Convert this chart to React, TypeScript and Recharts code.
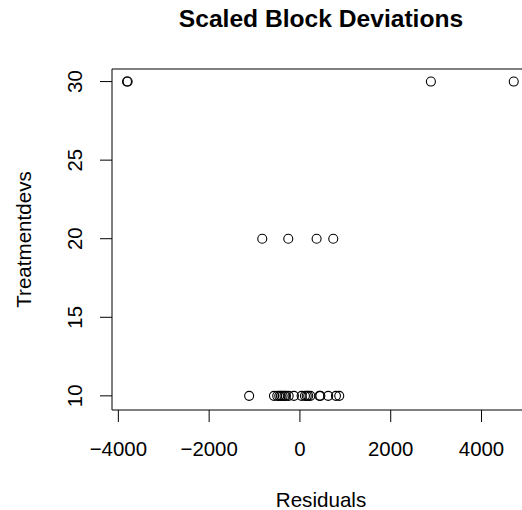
import React from 'react';
import { ScatterChart, Scatter, XAxis, YAxis, ReferenceArea } from 'recharts';

// residuals vs. treatment deviations
const residuals = [
  -3810, -3795, 2885, 4710,
  -830, -257, 367, 734,
  -1119, -572, -500, -455, -420, -381, -340, -308, -249, -132, 37, 110, 150, 183, 230, 430, 450, 623, 793, 866,
];
const treatmentdevs = [
  30, 30, 30, 30,
  20, 20, 20, 20,
  10, 10, 10, 10, 10, 10, 10, 10, 10, 10, 10, 10, 10, 10, 10, 10, 10, 10, 10, 10,
];
const xTicks = [-4000, -2000, 0, 2000, 4000];
const yTicks = [10, 15, 20, 25, 30];
const xDomain: [number, number] = [-4140, 5090];
const yDomain: [number, number] = [9.1, 30.8];

const points = residuals.map((r, i) => ({ x: r, y: treatmentdevs[i] }));

const FONT = '"Liberation Sans", Arial, Helvetica, sans-serif';

const fmt = (v: number) => (v < 0 ? '\u2212' + Math.abs(v) : String(v));

const XTick = (props: any) => (
  <text x={props.x} y={455.5} textAnchor="middle" fontSize={20.4} fontFamily={FONT} fill="#000">
    {fmt(props.payload.value)}
  </text>
);

const YTick = (props: any) => (
  <text
    transform={`translate(81.5, ${props.y}) rotate(-90)`}
    textAnchor="middle"
    fontSize={20.4}
    fontFamily={FONT}
    fill="#000"
  >
    {props.payload.value}
  </text>
);

const OpenCircle = (props: any) => (
  <circle cx={props.cx} cy={props.cy} r={4.5} fill="none" stroke="#000" strokeWidth={1.1} />
);

export default function App() {
  return (
    <div
      style={{
        position: 'fixed',
        left: 0,
        top: 0,
        width: 522,
        height: 510,
        overflow: 'hidden',
        background: '#fff',
      }}
    >
      <ScatterChart width={560} height={510} margin={{ top: 69, right: 29, bottom: 40, left: 0 }}>
        <XAxis
          type="number"
          dataKey="x"
          domain={xDomain}
          ticks={xTicks}
          interval={0}
          height={60}
          axisLine={false}
          tickSize={12}
          tickLine={{ stroke: '#000' }}
          tick={<XTick />}
        />
        <YAxis
          type="number"
          dataKey="y"
          domain={yDomain}
          ticks={yTicks}
          interval={0}
          width={112}
          axisLine={false}
          tickSize={12}
          tickLine={{ stroke: '#000' }}
          tick={<YTick />}
        />
        <ReferenceArea
          x1={xDomain[0]}
          x2={xDomain[1]}
          y1={yDomain[0]}
          y2={yDomain[1]}
          fill="none"
          stroke="#000"
          strokeWidth={1}
        />
        <Scatter data={points} shape={<OpenCircle />} isAnimationActive={false} />
      </ScatterChart>
      <svg
        width={522}
        height={510}
        style={{ position: 'absolute', left: 0, top: 0, pointerEvents: 'none' }}
        fontFamily={FONT}
      >
        <text x={321} y={27} textAnchor="middle" fontSize={24.6} fontWeight="bold" fill="#000">
          Scaled Block Deviations
        </text>
        <text x={321} y={506.5} textAnchor="middle" fontSize={20.6} fill="#000">
          Residuals
        </text>
        <text transform="translate(31, 239.5) rotate(-90)" textAnchor="middle" fontSize={20.6} fill="#000">
          Treatmentdevs
        </text>
      </svg>
    </div>
  );
}
